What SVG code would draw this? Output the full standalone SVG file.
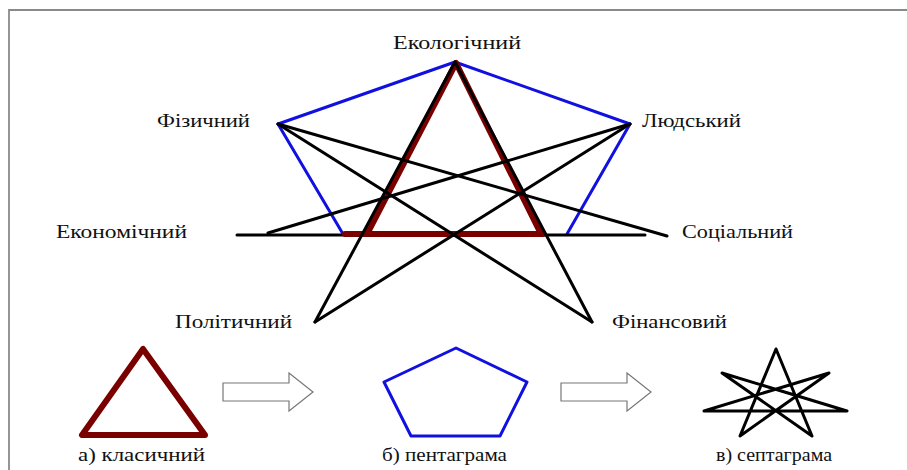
<svg xmlns="http://www.w3.org/2000/svg" width="907" height="470" viewBox="0 0 907 470">
<style>
  text { font-family: "Liberation Serif", "Times New Roman", serif; font-size: 18px; fill: #111; }
  .blue { stroke: #1010e0; stroke-width: 3; fill: none; stroke-linejoin: round; stroke-linecap: round; }
  .blk { stroke: #000; stroke-width: 3; fill: none; stroke-linecap: round; }
  .mar { stroke: #7a0000; stroke-width: 6; fill: none; stroke-linejoin: round; stroke-linecap: round; }
  .arrow { fill: #fff; stroke: #777; stroke-width: 1.2; }
  .border { stroke: #8a8a8a; stroke-width: 1.8; fill: none; }
</style>
<rect width="907" height="470" fill="#fff"/>
<path class="border" d="M9,470 V10 H907"/>

<!-- main figure -->
<g id="pentagon-blue">
  <polyline class="blue" points="343,234 278,124 455,62 630,124 567,234"/>
</g>
<g id="connectors">
  <line class="blk" x1="237" y1="235" x2="645" y2="235"/>
</g>
<g id="triangle-maroon">
  <polygon class="mar" points="456,63 367,234 541,234"/>
  <line class="mar" x1="345" y1="234" x2="543" y2="234"/>
</g>
<g id="connectors-heptagram">
  <line class="blk" x1="455" y1="62" x2="315" y2="322"/>
  <line class="blk" x1="455" y1="62" x2="592" y2="322"/>
  <line class="blk" x1="630" y1="124" x2="315" y2="322"/>
  <line class="blk" x1="630" y1="124" x2="268" y2="233"/>
  <line class="blk" x1="278" y1="124" x2="667" y2="236"/>
  <line class="blk" x1="278" y1="124" x2="592" y2="322"/>
</g>

<g id="node-ekolohichnyi"><text x="393" y="49" textLength="128" lengthAdjust="spacingAndGlyphs">Екологічний</text></g>
<g id="node-fizychnyi"><text x="157" y="127" textLength="93" lengthAdjust="spacingAndGlyphs">Фізичний</text></g>
<g id="node-liudskyi"><text x="642" y="127" textLength="99" lengthAdjust="spacingAndGlyphs">Людський</text></g>
<g id="node-ekonomichnyi"><text x="56" y="238" textLength="131" lengthAdjust="spacingAndGlyphs">Економічний</text></g>
<g id="node-sotsialnyi"><text x="682" y="238" textLength="111" lengthAdjust="spacingAndGlyphs">Соціальний</text></g>
<g id="node-politychnyi"><text x="175" y="328" textLength="117" lengthAdjust="spacingAndGlyphs">Політичний</text></g>
<g id="node-finansovyi"><text x="612" y="328" textLength="115" lengthAdjust="spacingAndGlyphs">Фінансовий</text></g>

<!-- bottom row -->
<g id="fig-a">
  <polygon class="mar" points="143,349 82,435 205,435"/>
  <text x="78" y="461" textLength="127" lengthAdjust="spacingAndGlyphs">а) класичний</text>
</g>
<g id="arrow-1">
  <path class="arrow" d="M223,383 H289 V373 L313,392 L289,411 V401 H223 Z"/>
</g>
<g id="fig-b">
  <polygon class="blue" points="456,348 527,382 500,436 411,436 384,382"/>
  <text x="382" y="461" textLength="125" lengthAdjust="spacingAndGlyphs">б) пентаграма</text>
</g>
<g id="arrow-2">
  <path class="arrow" d="M561,383 H627 V373 L651,392 L627,411 V401 H561 Z"/>
</g>
<g id="fig-c">
  <path class="blk" stroke-linejoin="round" d="M776,349 L812,436 L722,373 L847,411 L704,411 L829,373 L740,436 Z"/>
  <text x="716" y="461" textLength="116" lengthAdjust="spacingAndGlyphs">в) септаграма</text>
</g>
</svg>
